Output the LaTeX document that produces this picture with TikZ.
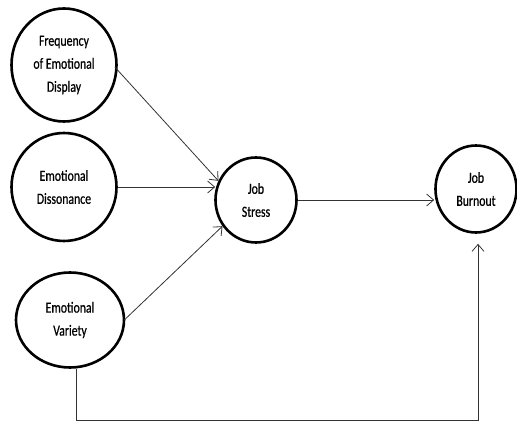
\documentclass[tikz,border=0pt]{standalone}
\usepackage{fontspec}
\setmainfont[FakeStretch=0.76, FakeBold=0.6]{Carlito}
\usepackage{tikz}
\usetikzlibrary{shapes.geometric, arrows.meta, positioning, calc}

\begin{document}
\begin{tikzpicture}[
    x=1pt, y=-1pt,
    construct/.style = {ellipse, draw=black, line width=2.6pt, align=center, font=\fontsize{15.5}{23}\selectfont, inner sep=0pt},
    link/.style = {draw=black!80, line width=0.8pt, -{Straight Barb[length=7pt, width=12pt, line width=0.8pt]}}
]
\useasboundingbox (0,0) rectangle (517,422);

% Constructs
\node (freq) [construct, minimum width=105, minimum height=113] at (64,65) {Frequency\\of Emotional\\Display};
\node (diss) [construct, minimum width=105, minimum height=108] at (64,187) {Emotional\\Dissonance};
\node (vari) [construct, minimum width=108, minimum height=95] at (70,320) {Emotional\\Variety};
\node (stress) [construct, minimum width=81, minimum height=85] at (256,200) {Job\\Stress};
\node (burn) [construct, minimum width=81, minimum height=87] at (476,189) {Job\\Burnout};

% Paths
\coordinate (base) at (76,420);
\draw [link] ($(freq.east)+(-3,2)$) -- (stress.153);
\draw [link] (diss.east) -- ($(diss.east -| stress.west)+(1,0)$);
\draw [link] ($(vari.east)+(-1,0)$) -- (stress.218);
\draw [link] (stress.east) -- (stress.east -| burn.west);
\draw [link, -] (base |- vari.south) -- (base);
\draw [link] (base) -| ($(burn.south)+(2,10)$);

\end{tikzpicture}
\end{document}
